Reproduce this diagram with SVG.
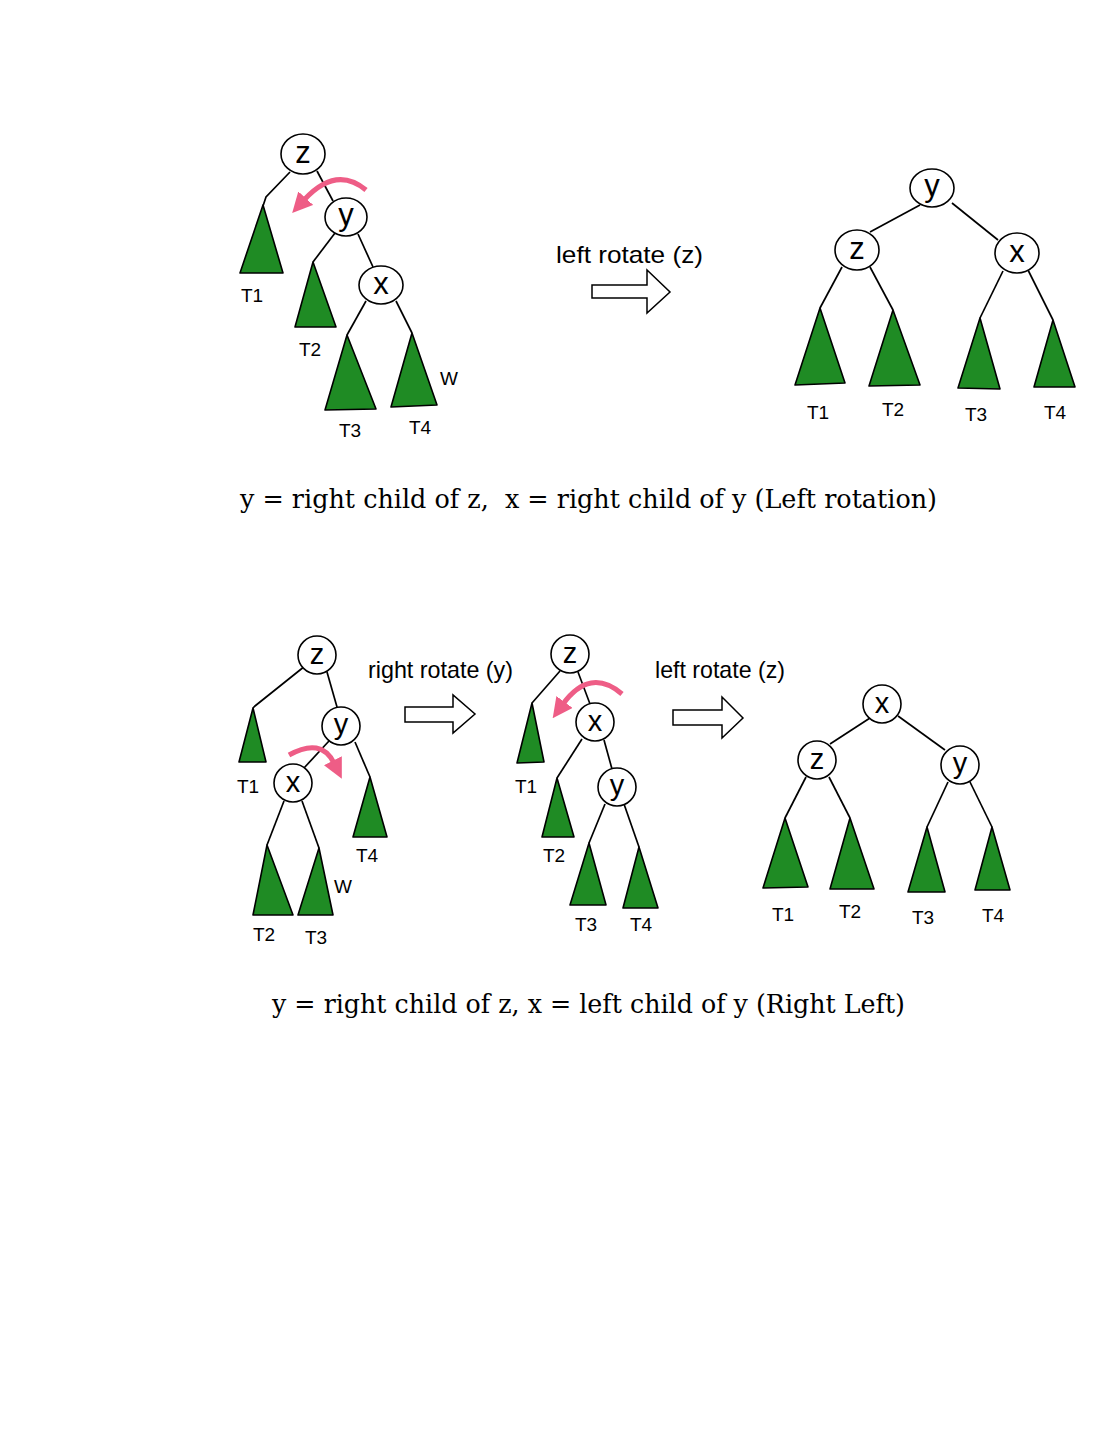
<svg xmlns="http://www.w3.org/2000/svg" width="1113" height="1440" viewBox="0 0 1113 1440">
<defs>
<style>
.nd{fill:#fff;stroke:#000;stroke-width:1.6}
.tr{fill:#1f8b24;stroke:#000;stroke-width:1.6;stroke-linejoin:round}
.e{fill:none;stroke:#000;stroke-width:1.7}
.nl{font-family:"Liberation Sans",Arial,sans-serif;font-size:31px;text-anchor:middle;fill:#000}
.nls{font-family:"Liberation Sans",Arial,sans-serif;font-size:29px;text-anchor:middle;fill:#000}
.lb{font-family:"Liberation Sans",Arial,sans-serif;font-size:19px;text-anchor:middle;fill:#000}
.op{font-family:"Liberation Sans",Arial,sans-serif;font-size:24px;fill:#000}
.cap{font-family:"DejaVu Serif","Liberation Serif",serif;font-size:26px;fill:#000}
.rot{fill:none;stroke:#ee5d86;stroke-width:5}
.arw{fill:#fff;stroke:#000;stroke-width:1.5;stroke-linejoin:miter}
</style>
<marker id="ph" markerUnits="userSpaceOnUse" markerWidth="20" markerHeight="20" refX="2" refY="8" orient="auto" viewBox="0 0 16 16">
<path d="M0,0 L16,8 L0,16 z" fill="#ee5d86"/>
</marker>
</defs>
<rect width="1113" height="1440" fill="#fff"/>

<g id="connectors">
<!-- top-left -->
<polyline class="e" points="290,172 266,197 263,206"/>
<polyline class="e" points="317,171 333,201"/>
<polyline class="e" points="335,233 313,262"/>
<polyline class="e" points="358,234 373,267"/>
<polyline class="e" points="366,301 347,335"/>
<polyline class="e" points="396,301 412,333"/>
<!-- top-right -->
<polyline class="e" points="920,205 870,232"/>
<polyline class="e" points="952,203 998,240"/>
<polyline class="e" points="842,267 820,308"/>
<polyline class="e" points="870,267 893,310"/>
<polyline class="e" points="1003,271 980,318"/>
<polyline class="e" points="1028,270 1053,320"/>
<!-- bottom-left -->
<polyline class="e" points="305,666 255,706 253,708"/>
<polyline class="e" points="327,672 337,707"/>
<polyline class="e" points="329,741 304,768"/>
<polyline class="e" points="355,742 370,777"/>
<polyline class="e" points="284,801 267,845"/>
<polyline class="e" points="302,801 319,848"/>
<!-- bottom-middle -->
<polyline class="e" points="560,671 532,703"/>
<polyline class="e" points="578,672 590,704"/>
<polyline class="e" points="582,739 557,778"/>
<polyline class="e" points="604,740 612,769"/>
<polyline class="e" points="605,804 589,843"/>
<polyline class="e" points="624,804 639,847"/>
<!-- bottom-right -->
<polyline class="e" points="870,718 830,744"/>
<polyline class="e" points="898,716 945,750"/>
<polyline class="e" points="806,777 785,818"/>
<polyline class="e" points="829,777 850,818"/>
<polyline class="e" points="948,782 927,827"/>
<polyline class="e" points="970,782 992,827"/>
</g>

<!-- Top-left tree -->
<g id="tl-T1"><polygon class="tr" points="263,205 240,273 283,273"/><text class="lb" x="252" y="302">T1</text></g>
<g id="tl-T2"><polygon class="tr" points="313,262 295,327 336,327"/><text class="lb" x="310" y="356">T2</text></g>
<g id="tl-T3"><polygon class="tr" points="347,335 325,410 376,409"/><text class="lb" x="350" y="437">T3</text></g>
<g id="tl-T4"><polygon class="tr" points="412,333 391,407 437,405"/><text class="lb" x="420" y="434">T4</text><text class="lb" x="449" y="385">W</text></g>
<g id="tl-z"><ellipse class="nd" cx="303" cy="154" rx="22" ry="20"/><text class="nl" x="303" y="163">z</text></g>
<g id="tl-y"><ellipse class="nd" cx="346" cy="217" rx="21" ry="19"/><text class="nl" x="346" y="225">y</text></g>
<g id="tl-x"><ellipse class="nd" cx="381" cy="285" rx="22" ry="19"/><text class="nl" x="381" y="294">x</text></g>
<path id="tl-rot" class="rot" d="M366,190 Q336,165 304,200" marker-end="url(#ph)"/>

<!-- Top arrow -->
<g id="op1"><text class="op" x="556" y="263" textLength="147" lengthAdjust="spacingAndGlyphs">left rotate (z)</text>
<polygon class="arw" points="592,285 647,285 647,270 670,292 647,313 647,298 592,298"/></g>

<!-- Top-right tree -->
<g id="tr-T1"><polygon class="tr" points="820,308 795,385 845,383"/><text class="lb" x="818" y="419">T1</text></g>
<g id="tr-T2"><polygon class="tr" points="893,310 869,386 920,385"/><text class="lb" x="893" y="416">T2</text></g>
<g id="tr-T3"><polygon class="tr" points="980,318 958,388 1000,389"/><text class="lb" x="976" y="421">T3</text></g>
<g id="tr-T4"><polygon class="tr" points="1053,320 1034,387 1075,387"/><text class="lb" x="1055" y="419">T4</text></g>
<g id="tr-y"><ellipse class="nd" cx="932" cy="188" rx="22" ry="19"/><text class="nl" x="932" y="196">y</text></g>
<g id="tr-z"><ellipse class="nd" cx="857" cy="250" rx="22" ry="20"/><text class="nl" x="857" y="259">z</text></g>
<g id="tr-x"><ellipse class="nd" cx="1017" cy="253" rx="22" ry="20"/><text class="nl" x="1017" y="262">x</text></g>

<text id="cap1" class="cap" x="240" y="508" textLength="697" lengthAdjust="spacingAndGlyphs" xml:space="preserve">y = right child of z,  x = right child of y (Left rotation)</text>

<!-- Bottom-left tree -->
<g id="bl-T1"><polygon class="tr" points="253,708 239,762 266,762"/><text class="lb" x="248" y="793">T1</text></g>
<g id="bl-T4"><polygon class="tr" points="370,777 353,837 387,837"/><text class="lb" x="367" y="862">T4</text></g>
<g id="bl-T2"><polygon class="tr" points="267,845 253,915 293,915"/><text class="lb" x="264" y="941">T2</text></g>
<g id="bl-T3"><polygon class="tr" points="319,848 298,915 333,915"/><text class="lb" x="316" y="944">T3</text><text class="lb" x="343" y="893">W</text></g>
<g id="bl-z"><circle class="nd" cx="317" cy="655" r="19"/><text class="nls" x="317" y="664">z</text></g>
<g id="bl-y"><circle class="nd" cx="341" cy="726" r="19"/><text class="nls" x="341" y="734">y</text></g>
<g id="bl-x"><circle class="nd" cx="293" cy="783" r="19"/><text class="nls" x="293" y="792">x</text></g>
<path id="bl-rot" class="rot" d="M289,755 Q321,737 334,763" marker-end="url(#ph)"/>

<!-- Bottom arrow 1 -->
<g id="op2"><text class="op" x="368" y="678" font-size="22" textLength="145" lengthAdjust="spacingAndGlyphs">right rotate (y)</text>
<polygon class="arw" points="405,707 453,707 453,695 475,714 453,733 453,722 405,722"/></g>

<!-- Bottom-middle tree -->
<g id="bm-T1"><polygon class="tr" points="532,703 517,763 544,762"/><text class="lb" x="526" y="793">T1</text></g>
<g id="bm-T2"><polygon class="tr" points="557,778 542,837 574,837"/><text class="lb" x="554" y="862">T2</text></g>
<g id="bm-T3"><polygon class="tr" points="589,843 570,905 606,905"/><text class="lb" x="586" y="931">T3</text></g>
<g id="bm-T4"><polygon class="tr" points="639,847 623,908 658,908"/><text class="lb" x="641" y="931">T4</text></g>
<g id="bm-z"><circle class="nd" cx="570" cy="654" r="19"/><text class="nls" x="570" y="663">z</text></g>
<g id="bm-x"><circle class="nd" cx="595" cy="722" r="19"/><text class="nls" x="595" y="731">x</text></g>
<g id="bm-y"><circle class="nd" cx="617" cy="787" r="19"/><text class="nls" x="617" y="795">y</text></g>
<path id="bm-rot" class="rot" d="M622,694 Q590,667 563,704" marker-end="url(#ph)"/>

<!-- Bottom arrow 2 -->
<g id="op3"><text class="op" x="655" y="678" font-size="22" textLength="130" lengthAdjust="spacingAndGlyphs">left rotate (z)</text>
<polygon class="arw" points="673,710 722,710 722,697 743,718 722,738 722,725 673,725"/></g>

<!-- Bottom-right tree -->
<g id="br-T1"><polygon class="tr" points="785,818 763,888 808,887"/><text class="lb" x="783" y="921">T1</text></g>
<g id="br-T2"><polygon class="tr" points="850,818 830,889 874,889"/><text class="lb" x="850" y="918">T2</text></g>
<g id="br-T3"><polygon class="tr" points="927,827 908,892 945,892"/><text class="lb" x="923" y="924">T3</text></g>
<g id="br-T4"><polygon class="tr" points="992,827 975,890 1010,890"/><text class="lb" x="993" y="922">T4</text></g>
<g id="br-x"><circle class="nd" cx="882" cy="704" r="19"/><text class="nls" x="882" y="713">x</text></g>
<g id="br-z"><circle class="nd" cx="817" cy="760" r="19"/><text class="nls" x="817" y="769">z</text></g>
<g id="br-y"><circle class="nd" cx="960" cy="765" r="19"/><text class="nls" x="960" y="773">y</text></g>

<text id="cap2" class="cap" x="272" y="1013" textLength="633" lengthAdjust="spacingAndGlyphs">y = right child of z, x = left child of y (Right Left)</text>
</svg>
